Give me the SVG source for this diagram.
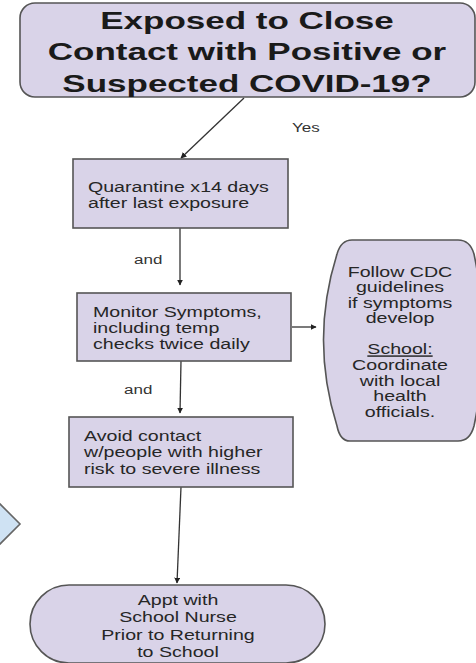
<svg xmlns="http://www.w3.org/2000/svg" width="476" height="663" viewBox="0 0 476 663">
<style>
.box{fill:#d9d3e8;stroke:#555;stroke-width:1.6}
.t{font-family:"Liberation Sans",Arial,sans-serif;fill:#262626;font-size:19.6px}
.tc{font-family:"Liberation Sans",Arial,sans-serif;fill:#262626;font-size:19.6px;text-anchor:middle}
.title{font-family:"Liberation Sans",Arial,sans-serif;font-weight:bold;fill:#1a1a1a;font-size:35px;text-anchor:middle}
.lbl{font-family:"Liberation Sans",Arial,sans-serif;fill:#333;font-size:17px}
.edge{fill:none;stroke:#333;stroke-width:1.3;marker-end:url(#ah)}
</style>
<defs>
<marker id="ah" viewBox="0 0 10 10" refX="9" refY="5" markerWidth="6" markerHeight="6" markerUnits="userSpaceOnUse" orient="auto">
<path d="M0,0 L10,5 L0,10 Z" fill="#222"/>
</marker>
</defs>
<rect width="476" height="663" fill="#fff"/>
<g id="diamond">
<polygon points="-30,474 20,524 -30,574" fill="#cfe2f3" stroke="#666" stroke-width="1.6"/>
</g>
<g id="connectors">
<line class="edge" x1="244" y1="98" x2="181" y2="158"/>
<line class="edge" x1="180" y1="228" x2="180" y2="285"/>
<line class="edge" x1="181" y1="361" x2="180" y2="413"/>
<line class="edge" x1="181" y1="487" x2="177" y2="583"/>
<line class="edge" x1="292" y1="327" x2="316" y2="327"/>
<text class="lbl" transform="translate(292,132) scale(1,0.78)" font-size="16">Yes</text>
<text class="lbl" transform="translate(134,264) scale(1,0.78)">and</text>
<text class="lbl" transform="translate(124,394) scale(1,0.78)">and</text>
</g>
<g id="n-exposed">
<rect class="box" x="20" y="3" width="455" height="94" rx="15"/>
<text class="title" transform="translate(247,29) scale(1,0.68)"><tspan x="0" y="0">Exposed to Close</tspan><tspan x="0" dy="46">Contact with Positive or</tspan><tspan x="0" dy="46">Suspected COVID-19?</tspan></text>
</g>
<g id="n-quarantine">
<rect class="box" x="73" y="159" width="215" height="69"/>
<text class="t" transform="translate(88,192) scale(1,0.78)"><tspan x="0" y="0">Quarantine x14 days</tspan><tspan x="0" dy="20.5">after last exposure</tspan></text>
</g>
<g id="n-monitor">
<rect class="box" x="77" y="293" width="214" height="68"/>
<text class="t" transform="translate(93,317) scale(1,0.78)"><tspan x="0" y="0">Monitor Symptoms,</tspan><tspan x="0" dy="20.5">including temp</tspan><tspan x="0" dy="20.5">checks twice daily</tspan></text>
</g>
<g id="n-avoid">
<rect class="box" x="69" y="417" width="224" height="70"/>
<text class="t" transform="translate(84,441) scale(1,0.78)"><tspan x="0" y="0">Avoid contact</tspan><tspan x="0" dy="21">w/people with higher</tspan><tspan x="0" dy="21">risk to severe illness</tspan></text>
</g>
<g id="n-cdc">
<path class="box" d="M352,240 H458 Q470,240 474,254 Q492,340 474,426 Q470,441 458,441 H350 Q340,441 337,426 Q310,340 337,254 Q341,240 352,240 Z"/>
<text class="tc" transform="translate(400,277) scale(1,0.75)"><tspan x="0" y="0">Follow CDC</tspan><tspan x="0" dy="20.67">guidelines</tspan><tspan x="0" dy="20.67">if symptoms</tspan><tspan x="0" dy="20.67">develop</tspan><tspan x="0" dy="41.33" text-decoration="underline">School:</tspan><tspan x="0" dy="20.67">Coordinate</tspan><tspan x="0" dy="20.67">with local</tspan><tspan x="0" dy="20.67">health</tspan><tspan x="0" dy="20.67">officials.</tspan></text>
</g>
<g id="n-appt">
<rect class="box" x="30" y="585" width="295" height="78" rx="39"/>
<text class="tc" transform="translate(178,605) scale(1,0.78)"><tspan x="0" y="0">Appt with</tspan><tspan x="0" dy="22.3">School Nurse</tspan><tspan x="0" dy="22.3">Prior to Returning</tspan><tspan x="0" dy="22.3">to School</tspan></text>
</g>
</svg>
